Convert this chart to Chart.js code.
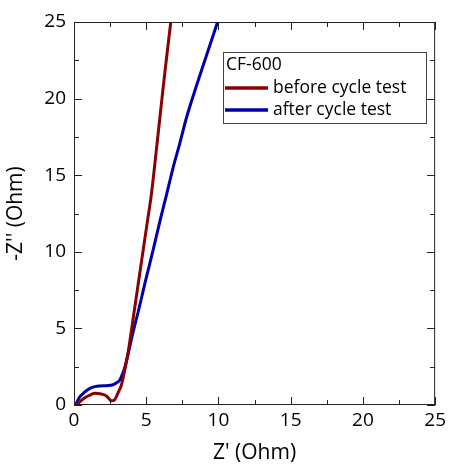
<!DOCTYPE html>
<html>
<head>
<meta charset="utf-8">
<script src="https://cdn.jsdelivr.net/npm/chart.js@4"></script>
<style>
html,body{margin:0;padding:0;background:#fff;}
#wrap{width:450px;height:468px;position:relative;}
</style>
</head>
<body>
<div id="wrap"><canvas id="c" width="450" height="468"></canvas></div>
<script>
// ---- data ----
const legendTitle = "CF-600";
const seriesNames = ["before cycle test", "after cycle test"];
const seriesColors = ["#8B0000", "#0000AA"];

const zRealBefore = [0.15, 0.41, 0.75, 1.1, 1.45, 1.8, 2.25, 2.6, 2.8, 2.94, 3.1, 3.28, 3.5, 3.74, 3.95, 4.15, 4.35, 4.6, 4.85, 5.1, 5.35, 5.65, 5.95, 6.3, 6.7];
const zImagBefore = [0.0, 0.22, 0.48, 0.65, 0.76, 0.74, 0.59, 0.27, 0.32, 0.56, 0.9, 1.3, 2.2, 3.4, 4.7, 6.0, 7.3, 8.9, 10.5, 12.1, 13.7, 16.2, 18.8, 21.8, 25.0];

const zRealAfter = [0.1, 0.41, 0.75, 1.1, 1.45, 1.79, 2.25, 2.7, 2.95, 3.17, 3.35, 3.5, 3.74, 4.0, 4.5, 5.0, 5.5, 6.0, 6.4, 6.85, 7.3, 7.8, 8.5, 9.2, 9.94];
const zImagAfter = [0.0, 0.54, 0.85, 1.09, 1.2, 1.24, 1.26, 1.32, 1.45, 1.63, 2.0, 2.4, 3.3, 4.4, 6.3, 8.3, 10.2, 12.2, 13.7, 15.45, 17.0, 18.8, 20.9, 22.9, 25.0];

const axisMin = 0, axisMax = 25, majorStep = 5, minorStep = 2.5;
const xTitle = "Z' (Ohm)";
const yTitle = "-Z'' (Ohm)";

const FONT = "'Open Sans', 'DejaVu Sans', sans-serif";

function pts(xs, ys){ return xs.map((x,i)=>({x:x, y:ys[i]})); }

const frameTicks = {
  id: 'frameTicks',
  afterDatasetsDraw(chart){
    const {ctx, chartArea:a, scales:{x, y}} = chart;
    ctx.save();
    ctx.strokeStyle = '#222';
    ctx.lineWidth = 1;
    ctx.strokeRect(a.left+0.5, a.top+0.5, a.right-a.left-1, a.bottom-a.top-1);
    ctx.beginPath();
    for (let v = axisMin; v <= axisMax + 1e-9; v += minorStep){
      const major = Math.abs(v/majorStep - Math.round(v/majorStep)) < 1e-6;
      const L = major ? 8 : 5;
      const px = Math.round(x.getPixelForValue(v)) + 0.5;
      ctx.moveTo(px, a.bottom); ctx.lineTo(px, a.bottom - L);
      ctx.moveTo(px, a.top); ctx.lineTo(px, a.top + L);
      const py = Math.round(y.getPixelForValue(v)) + 0.5;
      ctx.moveTo(a.left, py); ctx.lineTo(a.left + L, py);
      ctx.moveTo(a.right, py); ctx.lineTo(a.right - L, py);
    }
    ctx.stroke();
    ctx.restore();
  }
};

const boxLegend = {
  id: 'boxLegend',
  afterDraw(chart){
    const ctx = chart.ctx;
    const bx = 223, by = 52, bw = 203, bh = 71;
    ctx.save();
    ctx.fillStyle = '#fff';
    ctx.fillRect(bx, by, bw, bh);
    ctx.strokeStyle = '#444';
    ctx.lineWidth = 1;
    ctx.strokeRect(bx+0.5, by+0.5, bw, bh);
    ctx.fillStyle = '#000';
    ctx.font = "17.5px " + FONT;
    ctx.textBaseline = 'middle';
    ctx.textAlign = 'left';
    ctx.fillText(legendTitle, 226, 65);
    chart.data.datasets.forEach((ds, i) => {
      const yy = 88 + i*22;
      ctx.strokeStyle = ds.borderColor;
      ctx.lineWidth = 3.5;
      ctx.beginPath(); ctx.moveTo(225, yy); ctx.lineTo(268, yy); ctx.stroke();
      ctx.fillStyle = '#000';
      ctx.fillText(ds.label, 273, yy);
    });
    ctx.restore();
  }
};

new Chart(document.getElementById('c'), {
  type: 'scatter',
  data: {
    datasets: [
      { label: seriesNames[0], data: pts(zRealBefore, zImagBefore), borderColor: seriesColors[0], backgroundColor: seriesColors[0],
        showLine: true, pointRadius: 0, borderWidth: 3, cubicInterpolationMode: 'monotone' },
      { label: seriesNames[1], data: pts(zRealAfter, zImagAfter), borderColor: seriesColors[1], backgroundColor: seriesColors[1],
        showLine: true, pointRadius: 0, borderWidth: 3, cubicInterpolationMode: 'monotone' }
    ]
  },
  options: {
    responsive: false,
    animation: false,
    devicePixelRatio: 1,
    layout: { padding: { top: 22, right: 13, left: 0, bottom: 0 } },
    plugins: { legend: { display: false }, tooltip: { enabled: false } },
    scales: {
      x: {
        type: 'linear', min: axisMin, max: axisMax,
        border: { display: false },
        grid: { display: false, drawTicks: false },
        ticks: { stepSize: majorStep, color: '#000', padding: 4, font: { family: FONT, size: 19 } },
        title: { display: true, text: xTitle, color: '#000', font: { family: FONT, size: 21 }, padding: { top: 0, bottom: 2 } },
        afterFit(s){ s.height = 63; }
      },
      y: {
        type: 'linear', min: axisMin, max: axisMax,
        border: { display: false },
        grid: { display: false, drawTicks: false },
        ticks: { stepSize: majorStep, color: '#000', padding: 8, font: { family: FONT, size: 19 } },
        title: { display: true, text: yTitle, color: '#000', font: { family: FONT, size: 21 }, padding: { top: 3, bottom: 0 } },
        afterFit(s){ s.width = 74; }
      }
    }
  },
  plugins: [frameTicks, boxLegend]
});
</script>
</body>
</html>
